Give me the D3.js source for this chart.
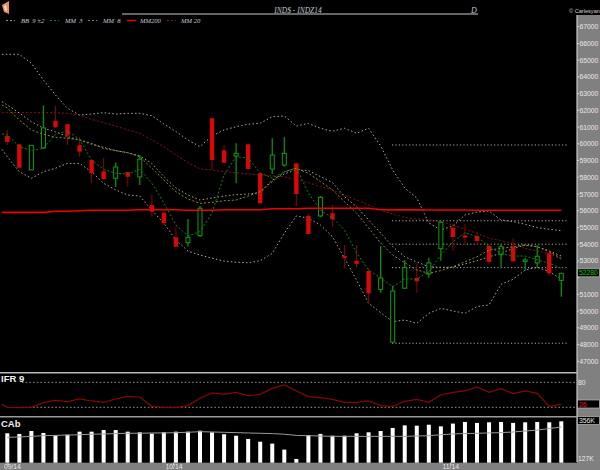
<!DOCTYPE html>
<html><head><meta charset="utf-8">
<script src="https://cdn.jsdelivr.net/npm/d3@7"></script>
<style>html,body{margin:0;padding:0;background:#000;overflow:hidden}svg{display:block}</style>
</head><body><div id="c"></div>
<script>
// Candles as high, top-of-body, bottom-of-body, low
const highs=[60830,59970,59910,62300,62260,61180,60410,59030,59150,58890,58310,59330,56960,55920,55050,55510,56280,61530,59930,60030,60030,58260,60330,60390,58870,55800,56880,56340,53950,53950,52560,53890,51500,53060,52860,53190,55400,55250,55190,54750,53950,54000,54350,53190,53950,53700,52300];
const bodyTop=[60470,59970,59910,60950,61380,61170,59910,59030,58360,58610,58310,59080,56340,55880,54410,54410,56150,61530,59610,59430,59970,58240,59330,59430,58830,55690,56800,55850,53290,53010,52400,51980,51200,52600,51980,52880,55310,54990,54530,54490,53890,53850,53850,53060,53280,53460,52260];
const bodyBot=[60110,58570,58440,59750,60990,60490,59530,58240,57900,57940,58030,58020,55940,55250,53850,54090,54510,59030,58870,59270,58490,56440,58490,58730,57000,54610,55690,55490,53170,52820,51060,51300,48140,51370,51780,52220,53730,54430,54390,54190,52940,53370,52980,53000,52880,52260,51840];
const lows=[59930,58570,58440,59690,60950,59930,59230,57660,57840,57420,57440,57540,55640,55130,53850,53850,54450,58440,58870,57640,58490,56440,58200,58630,56280,54610,55610,55050,52560,52620,50430,51100,48110,51340,51100,52000,53010,53600,53950,53950,52820,52600,52940,52420,52560,52100,50860];
const upDay=[0,0,1,1,0,0,0,0,0,1,0,1,0,0,0,1,1,0,0,1,0,0,1,1,0,0,1,0,0,0,0,1,1,1,0,1,1,0,0,0,0,1,0,1,1,0,1];
// Indicators (first value of each is the stub just left of the first candle)
const bbUpper=[65350,65350,65350,64810,63810,62920,62120,61720,61780,61860,61780,61820,61820,61680,61180,60730,60230,59830,60470,60830,61020,61170,61230,61620,61660,61060,61220,60930,60750,60930,60630,60930,59870,58430,57360,56760,55270,54850,55090,55750,55920,55980,55450,55350,55190,54990,54890,54810];
const bbMiddle=[62520,62320,61840,61320,60930,60720,60430,60230,59970,59790,59590,59470,59270,58830,58040,57360,56940,56640,56760,56880,56960,57000,57080,57840,58200,58440,58400,58040,57680,56840,56240,55450,54670,53850,53250,52940,52650,52620,52620,52820,53010,53250,53450,53750,53950,53850,53600,53290];
const bbLower=[59670,59230,58330,57940,58330,58540,58830,58830,58330,57640,57240,56940,56880,56040,55250,54250,53590,53350,53160,52990,52920,52890,53010,53450,54650,55690,55550,55150,54450,53160,51860,50470,49910,49370,49470,49270,49870,50170,50010,49870,50270,50370,51600,51900,52460,52620,52360,51900];
const mm3=[60590,60530,59830,59590,59730,60570,60770,60270,59030,58470,58240,58200,58470,57640,56460,55150,54490,54750,55870,58140,59230,59150,58260,57960,58320,58560,57060,56040,55570,54850,53470,52460,51980,51460,51920,51920,52360,53350,54150,54690,54450,53850,53450,53290,53290,53060,52860,52560];
const mm8=[62320,62140,61420,60830,60570,60390,60330,60230,60030,59730,59590,59470,59230,58540,57840,57140,56700,56440,56500,56600,56640,56880,57140,57740,58330,58540,58240,57740,57240,56540,55860,54970,54070,53350,52890,52460,52260,52420,52650,52950,53250,53650,53750,53850,53950,53850,53550,53150];
const mm20=[61880,61880,61860,61860,61860,61860,61820,61720,61460,61260,61060,60830,60630,60230,59830,59330,58880,58500,58440,58330,58270,58200,58140,58080,58030,57840,57680,57440,57240,56940,56640,56340,56040,55800,55600,55500,55450,55340,55150,54890,54650,54350,54210,54050,53750,53590,53450,53090];
const mm200=[55900,55900,55900,55900,55900,55970,55970,56000,56030,56030,56030,56030,56060,56060,56060,56060,56030,56030,56030,56060,56060,56060,56060,56120,56120,56120,56150,56150,56150,56150,56150,56150,56060,56050,56050,56050,56040,56040,56040,56040,56030,56030,56030,56030,56030,56030,56030,56030];
const supportLevels=[59930,55400,54000,52600,48080];
const priceTicks=[67000,66000,65000,64000,63000,62000,61000,60000,59000,58000,57000,56000,55000,54000,53000,52000,51000,50000,49000,48000,47000];
const lastPrice="52280";
const ifr=[27.2,20,19.2,20,31.2,36.8,33.6,40,35.2,32,40,46.4,44.8,22.4,20,19.2,24,41.6,54.4,51.2,56,48,51.2,65.6,73.6,59.2,45.6,43.2,39.2,32,32,35.2,24,22.4,34.4,39.2,32,49.6,56,59.2,68.8,56,64.8,52.8,59.2,53.6,22.4,27.2];
const ifrLevels=[80,20];
const volume=[280,276,294,282,267,271,290,290,300,300,290,286,278,286,290,290,296,286,274,265,245,228,216,179,121,269,276,265,265,280,286,294,313,329,327,333,323,340,350,344,348,350,344,348,350,348,354];
const volumeAvg=[255,257,261,265,267,269,271,274,276,278,280,280,282,282,284,286,290,288,286,284,282,280,278,274,267,265,263,261,261,261,261,261,261,261,263,265,271,276,278,280,282,284,288,294,300,309,319];
const monthLabels=[{t:"09/14",i:0.05},{t:"10/14",i:13.8},{t:"11/14",i:36.8}];
const legendItems=[["BB  9 ±2","#999"],["MM  3","#0a8a0a"],["MM  8","#8a8a10"],["MM200","#e00000"],["MM 20","#8a1010"]];

const W=600,H=470,axisX=577;
const svg=d3.select("#c").append("svg").attr("width",W).attr("height",H).style("background","#000");
const x=d3.scaleLinear().domain([0,46]).range([7.3,561.3]);
const lineX=i=>x(i===0?-0.44:i-1);
const y=d3.scaleLinear().domain([67000,47000]).range([26.7,361.3]);
const yI=d3.scaleLinear().domain([80,20]).range([382.3,407.3]);
const yV=d3.scaleLinear().domain([356,127]).range([421,458]);
const idx=d3.range(47);
const SANS="'Liberation Sans',Arial,sans-serif";

// right axis and bottom band
svg.append("rect").attr("x",axisX).attr("y",15).attr("width",W-axisX).attr("height",H-15).attr("fill","#808080");
svg.append("rect").attr("x",0).attr("y",462.7).attr("width",W).attr("height",H-462.7).attr("fill","#808080");
svg.append("line").attr("x1",axisX).attr("x2",axisX).attr("y1",15).attr("y2",462).attr("stroke","#c8c8c8").attr("stroke-width",1.2);
[[372.7,"#b8b8b8"],[416.7,"#9a9a9a"]].forEach(([v,c])=>svg.append("line").attr("x1",0).attr("x2",axisX).attr("y1",v).attr("y2",v).attr("stroke",c).attr("stroke-width",1.6));
svg.append("line").attr("x1",122).attr("x2",478).attr("y1",14).attr("y2",14).attr("stroke","#666").attr("stroke-width",1.8);

// header
svg.append("path").attr("d",d3.line()([[2,5],[9,1],[9,14],[4,12]])+"Z").attr("fill","#e8905a");
svg.append("path").attr("d",d3.line()([[4,6],[6,5],[7,11],[5,10]])+"Z").attr("fill","#fbe2cf");
const txt=(t,xx,yy,s,c,o={})=>svg.append("text").attr("x",xx).attr("y",yy).text(t).attr("font-size",s).attr("fill",c)
  .attr("font-family",o.f||SANS).attr("font-style",o.i?"italic":null).attr("font-weight",o.b?"bold":null).attr("text-anchor",o.a||"start").attr("dominant-baseline","central").style("white-space","pre");
const SERIF="'Liberation Serif',serif";
txt("IND$ - INDZ14",298,10.5,7.5,"#bfc6d0",{f:SERIF,i:1,a:"middle"});
txt("D",474,10.5,8,"#bfc6d0",{f:SERIF,i:1,a:"middle"});
txt("© Carlesyan",569,11,5.6,"#d0d0d0",{a:"start"});

// legend
const legX=[[6,21],[50,65],[88,103],[127,140],[167,181]];
legendItems.forEach(([t,c],k)=>{
  const [sx,tx]=legX[k];
  svg.append("line").attr("x1",sx).attr("x2",sx+9).attr("y1",20.5).attr("y2",20.5).attr("stroke",c)
    .attr("stroke-width",k===3?1.6:1).attr("stroke-dasharray",k===3?null:"2,2");
  txt(t,tx,20.5,6.6,"#c4cad4",{f:SERIF,i:1});
});

// support / resistance levels
svg.append("g").selectAll("line").data(supportLevels).join("line")
  .attr("x1",392).attr("x2",568).attr("y1",d=>y(d)).attr("y2",d=>y(d))
  .attr("stroke","#bbb").attr("stroke-width",0.9).attr("stroke-dasharray","1.2,2.2");

const line=(yf)=>d3.line().x((d,i)=>lineX(i)).y(d=>yf(d));
const drawLine=(arr,c,w,dash)=>svg.append("path").attr("d",line(y)(arr)).attr("fill","none").attr("stroke",c).attr("stroke-width",w).attr("stroke-dasharray",dash);
drawLine(mm20,"#8a1010",1,"2,2");
drawLine(bbUpper,"#a8a8a8",1,"1.5,2.3");
drawLine(bbMiddle,"#a8a8a8",1,"1.5,2.3");
drawLine(bbLower,"#a8a8a8",1,"1.5,2.3");

// candles
const wick=i=>upDay[i]?"#0a8f0a":"#7a0606";
svg.append("g").selectAll("line").data(idx).join("line")
  .attr("x1",i=>x(i)).attr("x2",i=>x(i)).attr("y1",i=>y(highs[i])).attr("y2",i=>y(lows[i]))
  .attr("stroke",wick).attr("stroke-width",i=>upDay[i]?1.3:1.1);
svg.append("g").selectAll("rect").data(idx).join("rect")
  .attr("x",i=>x(i)-(upDay[i]?2:2.2)).attr("width",i=>upDay[i]?4:4.4)
  .attr("y",i=>y(bodyTop[i])).attr("height",i=>Math.max(1.5,y(bodyBot[i])-y(bodyTop[i])))
  .attr("fill",i=>upDay[i]?"#000":"#d80808").attr("stroke",i=>upDay[i]?"#0ca00c":"none").attr("stroke-width",1);

drawLine(mm8,"#8f8f12",1,"2,2");
drawLine(mm3,"#0a8a0a",1,"2,2");
svg.append("path").attr("d",line(y)(mm200)).attr("fill","none").attr("stroke","#f00000").attr("stroke-width",1.6).attr("stroke-linejoin","miter");

// price axis
svg.append("g").selectAll("text").data(priceTicks.filter(d=>d!==52000)).join("text")
  .attr("x",579.5).attr("y",d=>y(d)).text(d=>d).attr("font-size",6.8).attr("font-family",SANS).attr("fill","#e8e8e8").attr("dominant-baseline","central");
svg.append("g").selectAll("line").data(priceTicks).join("line")
  .attr("x1",axisX).attr("x2",579).attr("y1",d=>y(d)).attr("y2",d=>y(d)).attr("stroke","#e0e0e0").attr("stroke-width",0.8);
const badge=(t,yy,h,c)=>{
  svg.append("rect").attr("x",axisX+0.5).attr("y",yy-h/2).attr("width",W-axisX-1).attr("height",h).attr("fill","#000").attr("stroke","#bbb").attr("stroke-width",0.7);
  txt(t,579,yy,6.8,c);
};
badge(lastPrice,272.8,8,"#00d000");

// IFR
txt("IFR 9",1,378.5,9.5,"#f0f0f0",{b:1});
svg.append("g").selectAll("line").data(ifrLevels).join("line")
  .attr("x1",22).attr("x2",575).attr("y1",d=>yI(d)).attr("y2",d=>yI(d)).attr("stroke","#aaa").attr("stroke-width",0.9).attr("stroke-dasharray","1.5,2.2");
svg.append("path").attr("d",line(yI)(ifr)).attr("fill","none").attr("stroke","#8a0505").attr("stroke-width",1.2);
txt("80",578,382.3,6.8,"#e8e8e8");
badge("26",404,8,"#ff1010");

// Volume
txt("CAb",1,423,9.5,"#f0f0f0",{b:1});
svg.append("g").selectAll("rect").data(volume).join("rect")
  .attr("x",(d,i)=>x(i)-2).attr("width",4).attr("y",d=>yV(d)).attr("height",d=>462.7-yV(d)).attr("fill","#fff");
svg.append("path").attr("d",d3.line().x((d,i)=>x(i)).y(d=>yV(d))(volumeAvg)).attr("fill","none").attr("stroke","#9a9a9a").attr("stroke-width",1);
badge("356K",420.5,8,"#e8e8e8");
txt("127K",578,458,6.8,"#e8e8e8");

// month labels
monthLabels.forEach(m=>{
  svg.append("line").attr("x1",x(m.i)).attr("x2",x(m.i)).attr("y1",462.7).attr("y2",465).attr("stroke","#ddd").attr("stroke-width",0.8);
  txt(m.t,x(m.i)-(m.i<1?4:8),466.5,6.8,"#e4e4e4");
});
</script></body></html>
